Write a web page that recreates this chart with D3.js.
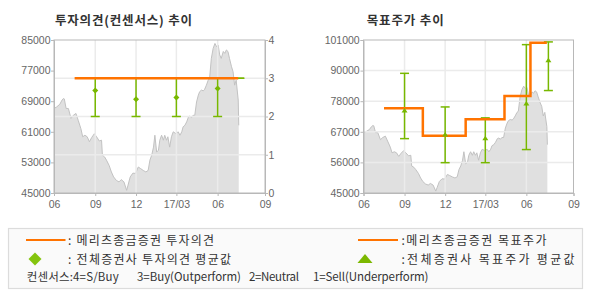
<!DOCTYPE html>
<html><head><meta charset="utf-8">
<script src="https://cdn.jsdelivr.net/npm/d3@7"></script>
<style>body{margin:0;background:#fff} svg{display:block}</style>
</head><body><svg id="c" width="590" height="300"></svg>
<script>
// ---------- DATA ----------
const priceDates = ["2016-06-01","2016-06-07","2016-06-14","2016-06-19","2016-06-22","2016-06-24","2016-06-28","2016-07-03","2016-07-09","2016-07-14","2016-07-20","2016-07-25","2016-07-31","2016-08-04","2016-08-09","2016-08-14","2016-08-19","2016-08-24","2016-08-30","2016-09-04","2016-09-10","2016-09-15","2016-09-17","2016-09-22","2016-09-26","2016-10-02","2016-10-07","2016-10-12","2016-10-18","2016-10-24","2016-10-29","2016-11-04","2016-11-10","2016-11-13","2016-11-18","2016-11-24","2016-11-30","2016-12-06","2016-12-11","2016-12-17","2016-12-23","2016-12-28","2017-01-01","2017-01-05","2017-01-09","2017-01-12","2017-01-16","2017-01-20","2017-01-23","2017-01-27","2017-01-31","2017-02-03","2017-02-07","2017-02-10","2017-02-14","2017-02-18","2017-02-22","2017-02-28","2017-03-05","2017-03-09","2017-03-13","2017-03-16","2017-03-20","2017-03-24","2017-03-28","2017-03-31","2017-04-04","2017-04-07","2017-04-11","2017-04-15","2017-04-19","2017-04-22","2017-04-26","2017-04-30","2017-05-03","2017-05-07","2017-05-11","2017-05-14","2017-05-18","2017-05-22","2017-05-26","2017-05-30","2017-06-02","2017-06-05","2017-06-08","2017-06-12","2017-06-15","2017-06-18","2017-06-21","2017-06-24","2017-06-28","2017-07-01","2017-07-04","2017-07-07","2017-07-11","2017-07-12"];
const priceValues = [67100,67500,68200,69300,69700,69600,67100,67100,64500,65300,65800,64000,61800,59700,60100,59700,58400,59500,60500,59700,58600,58800,54900,54400,53600,52200,50500,49200,48300,47900,48500,47900,45700,47000,49200,50200,50100,51800,51400,50900,50500,50900,53600,54900,57000,60100,55700,56200,58800,60100,58800,60100,58800,59700,57000,59700,61000,60500,61000,60100,61000,62300,62700,63600,64900,65100,64700,65300,65300,68800,70600,71500,71900,71700,72100,73200,74500,74900,80200,82800,84100,83200,83700,81100,80200,82000,81500,82400,82000,80200,78000,76700,73200,74500,69300,62700];

const xTickDates = ["2016-06-01","2016-09-01","2016-12-01","2017-03-01","2017-06-01","2017-09-01"];
const xTickLabels = ["06","09","12","17/03","06","09"];

const opinionPriceTicks = [45000,53000,61000,69000,77000,85000];
const opinionTicks = [0,1,2,3,4];
const targetTickValues = [45000,56200,67400,78600,89800,101000];
const targetTickLabels = ["45000","56000","67000","78000","90000","101000"];

const meritzOpinionDates = ["2016-07-17","2017-07-11"];
const meritzOpinionValues = [3,3];

const consensusDates = ["2016-09-01","2016-12-01","2017-03-01","2017-06-01","2017-07-14"];
const opinionAvg = [2.68,2.45,2.50,2.73,3];
const opinionMin = [2,2,2,2,3];
const opinionMax = [3,3,3,3,3];

const targetDates = ["2016-07-17","2016-10-12","2017-01-16","2017-04-13","2017-06-09","2017-07-11"];
const targetValues = [76000,66000,72000,80500,100000,100000];
const targetAvg = [75200,66400,65000,77800,93600];
const targetMin = [64900,56100,56100,60900,82500];
const targetMax = [88800,76500,72500,99300,100300];

const titles = ["투자의견(컨센서스) 추이","목표주가 추이"];
const legendTexts = [": 메리츠종금증권 투자의견",": 전체증권사 투자의견 평균값",":메리츠종금증권 목표주가",":전체증권사 목표주가 평균값"];
const consensusNoteParts = ["컨센서스:4=S/Buy","3=Buy(Outperform)","2=Neutral","1=Sell(Underperform)"];

// ---------- STYLE ----------
const ORANGE = "#ff7300", GREEN = "#78b800", AREA = "#e0e0e0", AREA_LINE = "#c2c2c2",
      GRID = "#ebebeb", FRAME = "#b8b8b8", LABEL = "#666", KFONT = "'Noto Sans CJK KR', sans-serif",
      NFONT = "'Liberation Sans', Arial, sans-serif";

const parse = d3.timeParse("%Y-%m-%d");
const price = priceDates.map((d,i)=>({date:parse(d), v:priceValues[i]}));
const svg = d3.select("#c");

function makeX(x0, w) {
  return d3.scaleTime()
    .domain([parse("2016-06-01"), parse("2017-06-01"), parse("2017-09-01")])
    .range([x0, x0 + w*0.7755, x0 + w]);
}

function frame(g, x, yGrid, gridVals, top, bottom, left, right) {
  g.append("g").selectAll("line").data(xTickDates.slice(1,5)).join("line")
    .attr("x1", d=>x(parse(d))).attr("x2", d=>x(parse(d)))
    .attr("y1", top).attr("y2", bottom).attr("stroke", GRID).attr("stroke-width",1.5);
  g.append("g").selectAll("line").data(gridVals).join("line")
    .attr("x1", left).attr("x2", right)
    .attr("y1", d=>yGrid(d)).attr("y2", d=>yGrid(d)).attr("stroke", GRID).attr("stroke-width",1.5);
}

function styleAxis(sel) {
  sel.select(".domain").attr("stroke", FRAME);
  sel.selectAll(".tick line").attr("stroke", FRAME);
  sel.selectAll("text").attr("fill", LABEL).attr("font-family", NFONT).attr("font-size", 10.5);
}

function drawArea(g, x, y, bottom) {
  g.append("path").datum(price)
    .attr("d", d3.area().x(d=>x(d.date)).y0(bottom).y1(d=>y(d.v)))
    .attr("fill", AREA);
  g.append("path").datum(price)
    .attr("d", d3.line().x(d=>x(d.date)).y(d=>y(d.v)))
    .attr("fill", "none").attr("stroke", AREA_LINE).attr("stroke-width", 1);
}

function errorBars(g, x, y, mins, maxs, avgs) {
  const data = consensusDates.map((d,i)=>({date:parse(d), lo:mins[i], hi:maxs[i], avg:avgs[i]}));
  const gg = g.append("g").attr("stroke", GREEN).attr("stroke-width", 1.5);
  data.forEach(d=>{
    const cx = x(d.date);
    gg.append("line").attr("x1",cx).attr("x2",cx).attr("y1",y(d.lo)).attr("y2",y(d.hi));
    gg.append("line").attr("x1",cx-4.5).attr("x2",cx+4.5).attr("y1",y(d.lo)).attr("y2",y(d.lo));
    gg.append("line").attr("x1",cx-4.5).attr("x2",cx+4.5).attr("y1",y(d.hi)).attr("y2",y(d.hi));
  });
  return data;
}

function markers(g, data, x, y, type) {
  g.append("g").selectAll("path").data(data).join("path")
    .attr("transform", d=>`translate(${x(d.date)},${y(d.avg)})`)
    .attr("d", type==="diamond" ? "M0,-3L3,0L0,3L-3,0Z" : "M0,-2.5L3,2L-3,2Z")
    .attr("fill", GREEN);
}

function title(xx, s, len) {
  svg.append("text").attr("x",xx).attr("y",24.5).text(s)
    .attr("font-family",KFONT).attr("font-weight","bold").attr("font-size",12.5).attr("fill","#333")
    .attr("textLength",len).attr("lengthAdjust","spacing");
}

// ---------- LEFT CHART ----------
{
  const L = 54, R = 265, T = 40, B = 193;
  const x = makeX(L, R-L);
  const yP = d3.scaleLinear().domain([45000,85000]).range([B,T]);
  const yO = d3.scaleLinear().domain([0,4]).range([B,T]);
  const g = svg.append("g");
  drawArea(g, x, yP, B);
  frame(g, x, yO, [1,2,3], T, B, L, R);
  g.append("rect").attr("x",L).attr("y",T).attr("width",R-L).attr("height",B-T)
    .attr("fill","none").attr("stroke",FRAME);
  const eb = errorBars(g, x, yO, opinionMin, opinionMax, opinionAvg);
  const op = meritzOpinionDates.map((d,i)=>({date:parse(d), v:meritzOpinionValues[i]}));
  g.append("path").datum(op).attr("d", d3.line().x(d=>x(d.date)).y(d=>yO(d.v)))
    .attr("fill","none").attr("stroke",ORANGE).attr("stroke-width",2.5);
  markers(g, eb.slice(0,4), x, yO, "diamond");

  g.append("g").attr("transform",`translate(0,${B})`)
    .call(d3.axisBottom(x).tickValues(xTickDates.map(parse)).tickFormat((d,i)=>xTickLabels[i]).tickSize(3).tickPadding(5))
    .call(styleAxis);
  g.append("g").attr("transform",`translate(${L},0)`)
    .call(d3.axisLeft(yP).tickValues(opinionPriceTicks).tickFormat(d3.format("d")).tickSize(3).tickPadding(0.5))
    .call(styleAxis);
  g.append("g").attr("transform",`translate(${R},0)`)
    .call(d3.axisRight(yO).tickValues(opinionTicks).tickFormat(d3.format("d")).tickSize(3).tickPadding(0.5))
    .call(styleAxis);
  title(55, titles[0], 137);
}

// ---------- RIGHT CHART ----------
{
  const L = 363.5, R = 573.5, T = 40, B = 193;
  const x = makeX(L, R-L);
  const y = d3.scaleLinear().domain([45000,101000]).range([B,T]);
  const g = svg.append("g");
  drawArea(g, x, y, B);
  frame(g, x, y, targetTickValues.slice(1,5), T, B, L, R);
  g.append("rect").attr("x",L).attr("y",T).attr("width",R-L).attr("height",B-T)
    .attr("fill","none").attr("stroke",FRAME);
  const eb = errorBars(g, x, y, targetMin, targetMax, targetAvg);
  const tp = targetDates.map((d,i)=>({date:parse(d), v:targetValues[i]}));
  g.append("path").datum(tp).attr("d", d3.line().curve(d3.curveStepAfter).x(d=>x(d.date)).y(d=>y(d.v)))
    .attr("fill","none").attr("stroke",ORANGE).attr("stroke-width",2.5);
  markers(g, eb, x, y, "triangle");

  g.append("g").attr("transform",`translate(0,${B})`)
    .call(d3.axisBottom(x).tickValues(xTickDates.map(parse)).tickFormat((d,i)=>xTickLabels[i]).tickSize(3).tickPadding(5))
    .call(styleAxis);
  g.append("g").attr("transform",`translate(${L},0)`)
    .call(d3.axisLeft(y).tickValues(targetTickValues).tickFormat((d,i)=>targetTickLabels[i]).tickSize(3).tickPadding(0.8))
    .call(styleAxis);
  title(366.7, titles[1], 77);
}

// ---------- LEGEND ----------
{
  const lg = svg.append("g");
  lg.append("rect").attr("x",8.5).attr("y",228.5).attr("width",574).attr("height",60)
    .attr("fill","#fafafa").attr("stroke","#dcdcdc").attr("stroke-width",1.2);
  const txt = (xx, yy, s, len) => {
    const t = lg.append("text").attr("x",xx).attr("y",yy).text(s)
      .attr("font-family",KFONT).attr("font-size",12).attr("fill","#333");
    if (len) t.attr("textLength",len).attr("lengthAdjust","spacing");
    return t;
  };
  lg.append("line").attr("x1",26).attr("x2",65.5).attr("y1",240).attr("y2",240).attr("stroke",ORANGE).attr("stroke-width",2);
  txt(68, 244.5, legendTexts[0], 146);
  lg.append("path").attr("transform","translate(35,259)").attr("d","M0,-6.5L6.5,0L0,6.5L-6.5,0Z").attr("fill","#84c40e");
  txt(68, 263.5, legendTexts[1], 163);
  lg.append("line").attr("x1",358).attr("x2",398).attr("y1",240).attr("y2",240).attr("stroke",ORANGE).attr("stroke-width",2);
  txt(401.5, 244.5, legendTexts[2], 145);
  lg.append("path").attr("transform","translate(365,259)").attr("d","M0,-5L7.5,4L-7.5,4Z").attr("fill","#7cb800");
  txt(401.5, 263.5, legendTexts[3], 173);
  const noteX = [26.7, 137, 249, 313];
  const noteW = [92, 104, 50, 115.5];
  consensusNoteParts.forEach((s,i)=> txt(noteX[i], 281, s, noteW[i]).attr("font-size",11.5));
}
</script></body></html>
